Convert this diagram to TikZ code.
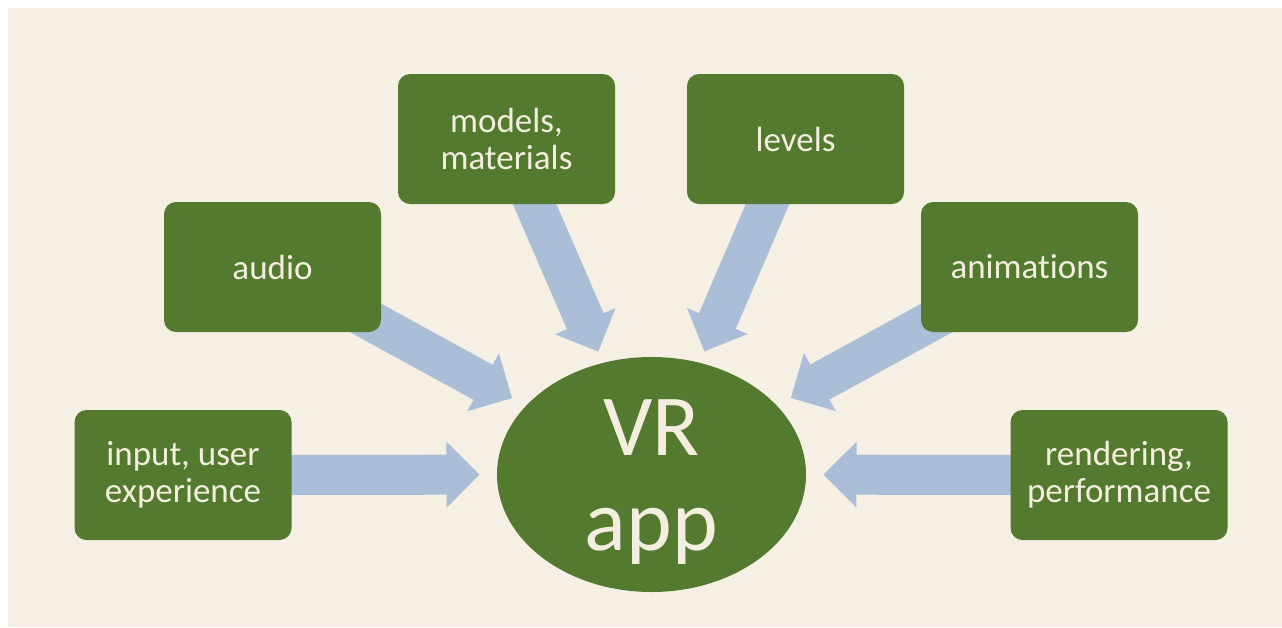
\documentclass[tikz,border=0pt]{standalone}
\usepackage{fontspec}
\setmainfont{Carlito}[Ligatures=NoCommon]
\usetikzlibrary{calc,shapes.geometric}
\definecolor{paper}{HTML}{F6EFE4}
\definecolor{leaf}{HTML}{537A2E}
\definecolor{cream}{HTML}{F3EEDF}
\definecolor{flow}{HTML}{AABED7}
\pgfdeclarelayer{paperlayer}
\pgfdeclarelayer{flowlayer}
\pgfsetlayers{paperlayer,flowlayer,main}
% block arrow from the centre of node #1 to the tip coordinate #2
\newcommand\feedarrow[2]{%
  \coordinate (base) at ($(#2)!33pt!(#1.center)$);
  \fill[flowfill] ($(#1.center)!20pt!90:(#2)$) -- ($(base)!20pt!90:(#2)$)
    -- ($(base)!33pt!90:(#2)$) -- (#2) -- ($(base)!33pt!-90:(#2)$)
    -- ($(base)!20pt!-90:(#2)$) -- ($(#1.center)!20pt!-90:(#2)$) -- cycle;
}
\begin{document}
\begin{tikzpicture}[x=1pt,y=-1pt,
  topic/.style={rectangle, rounded corners=12pt, fill=leaf, text=cream,
    minimum width=217pt, minimum height=130pt, inner sep=0pt, align=center,
    font=\fontsize{35}{37}\selectfont},
  hub/.style={ellipse, fill=leaf, minimum width=309pt,
    minimum height=235pt, inner sep=0pt},
  hubtext/.style={text=cream, inner sep=0pt, align=center,
    font=\fontsize{87}{95}\selectfont},
  flowfill/.style={fill=flow}]

% page and background
\begin{pgfonlayer}{paperlayer}
  \fill[white] (0,0) rectangle (1282,627);
  \fill[paper] (8,8) rectangle (1282,627);
\end{pgfonlayer}
\useasboundingbox (0,0) rectangle (1282,627);

% central hub
\node[hub, label={[hubtext, yshift=-8pt]center:VR\\app}] (vr) at (651.5,474.5) {};

% surrounding topics
\node[topic] (inp)    at (183,475)    {input, user\\experience};
\node[topic] (audio)  at (272.5,267)  {audio};
\node[topic] (models) at (506.5,139)  {models,\\materials};
\node[topic] (levels) at (795.5,139)  {levels};
\node[topic] (anim)   at (1029.5,267) {animations};
\node[topic] (rend)   at (1119,475)   {rendering,\\performance};

% arrow tips just outside the hub
\coordinate (tinp)    at ($(vr.center)!172pt!(inp.center)$);
\coordinate (taudio)  at ($(vr.center)!159pt!(audio.center)$);
\coordinate (tmodels) at ($(vr.center)!134pt!(models.center)$);
\coordinate (tlevels) at ($(vr.center)!134pt!(levels.center)$);
\coordinate (tanim)   at ($(vr.center)!159pt!(anim.center)$);
\coordinate (trend)   at ($(vr.center)!172pt!(rend.center)$);

% block arrows, drawn behind the boxes
\begin{pgfonlayer}{flowlayer}
  \feedarrow{inp}{tinp}
  \feedarrow{audio}{taudio}
  \feedarrow{models}{tmodels}
  \feedarrow{levels}{tlevels}
  \feedarrow{anim}{tanim}
  \feedarrow{rend}{trend}
\end{pgfonlayer}
\end{tikzpicture}
\end{document}
